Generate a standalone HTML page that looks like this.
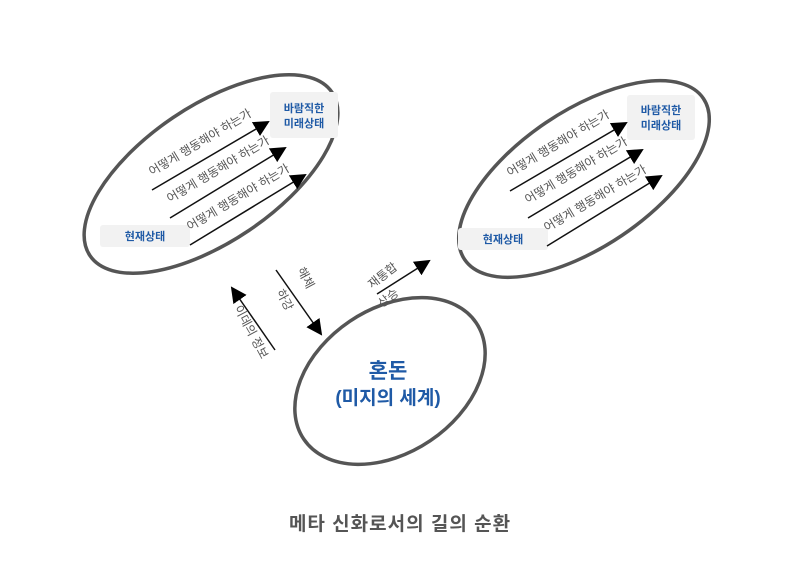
<!DOCTYPE html>
<html><head><meta charset="utf-8"><style>
body{margin:0;background:#fff}
svg{display:block}
text{font-family:"Liberation Sans","Noto Sans CJK KR",sans-serif}
</style></head><body>
<svg width="800" height="566" viewBox="0 0 800 566">
<defs>
<marker id="b" markerWidth="16" markerHeight="16" refX="14" refY="8" orient="auto" markerUnits="userSpaceOnUse" viewBox="0 0 16 16"><path d="M0,0 L16,8 L0,16z" fill="#000"/></marker></defs>
<g fill="none" stroke="#555" stroke-width="3.5">
<ellipse cx="211" cy="174" rx="146" ry="68" transform="rotate(-34 211 174)"/>
<ellipse cx="584" cy="179" rx="144" ry="68" transform="rotate(-34 584 179)"/>
<ellipse cx="390" cy="381" rx="104" ry="72" transform="rotate(-34 390 381)"/>
</g>
<g fill="#f2f2f2">
<rect x="270" y="92" width="68" height="46" rx="3"/>
<rect x="100" y="225" width="90" height="22" rx="3"/>
<rect x="627" y="95" width="68" height="45" rx="3"/>
<rect x="458" y="228" width="90" height="22" rx="3"/>
</g>
<g fill="#1f5aa6" font-size="11" font-weight="bold" text-anchor="middle">
<text x="304" y="112">바람직한</text><text x="304" y="127">미래상태</text>
<text x="145" y="240">현재상태</text>
<text x="661" y="114">바람직한</text><text x="661" y="129">미래상태</text>
<text x="503" y="243">현재상태</text>
</g>
<g stroke="#111" stroke-width="1.5">
<line x1="152" y1="190" x2="268" y2="122" marker-end="url(#b)"/>
<line x1="170" y1="218" x2="285" y2="148" marker-end="url(#b)"/>
<line x1="190" y1="245" x2="305" y2="175" marker-end="url(#b)"/>
<line x1="510" y1="191" x2="626" y2="123" marker-end="url(#b)"/>
<line x1="528" y1="218" x2="642" y2="150" marker-end="url(#b)"/>
<line x1="547" y1="246" x2="661" y2="176" marker-end="url(#b)"/>
<line x1="276" y1="270" x2="321" y2="334" marker-end="url(#b)"/>
<line x1="275" y1="350" x2="232" y2="288" marker-end="url(#b)"/>
<line x1="377" y1="294" x2="429" y2="261" marker-end="url(#b)"/>
</g>
<g fill="#555" font-size="12">
<text transform="translate(152,176) rotate(-31)">어떻게 행동해야 하는가</text>
<text transform="translate(170,203) rotate(-31)">어떻게 행동해야 하는가</text>
<text transform="translate(190,231) rotate(-31)">어떻게 행동해야 하는가</text>
<text transform="translate(510,177) rotate(-31)">어떻게 행동해야 하는가</text>
<text transform="translate(528,204) rotate(-31)">어떻게 행동해야 하는가</text>
<text transform="translate(547,232) rotate(-31)">어떻게 행동해야 하는가</text>
<text transform="translate(297,270) rotate(62)">해체</text>
<text transform="translate(276,292) rotate(62)">하강</text>
<text transform="translate(234,308) rotate(62)">이데의 정보</text>
<text transform="translate(372,289) rotate(-38)">재통합</text>
<text transform="translate(382,308) rotate(-38)">상승</text>
</g>
<g fill="#1f5aa6" font-weight="bold" text-anchor="middle">
<text x="388" y="378" font-size="21">혼돈</text>
<text x="388" y="404" font-size="19">(미지의 세계)</text>
</g>
<text x="400" y="530" text-anchor="middle" font-size="19" font-weight="bold" fill="#555" letter-spacing="1">메타 신화로서의 길의 순환</text>
</svg>
</body></html>
